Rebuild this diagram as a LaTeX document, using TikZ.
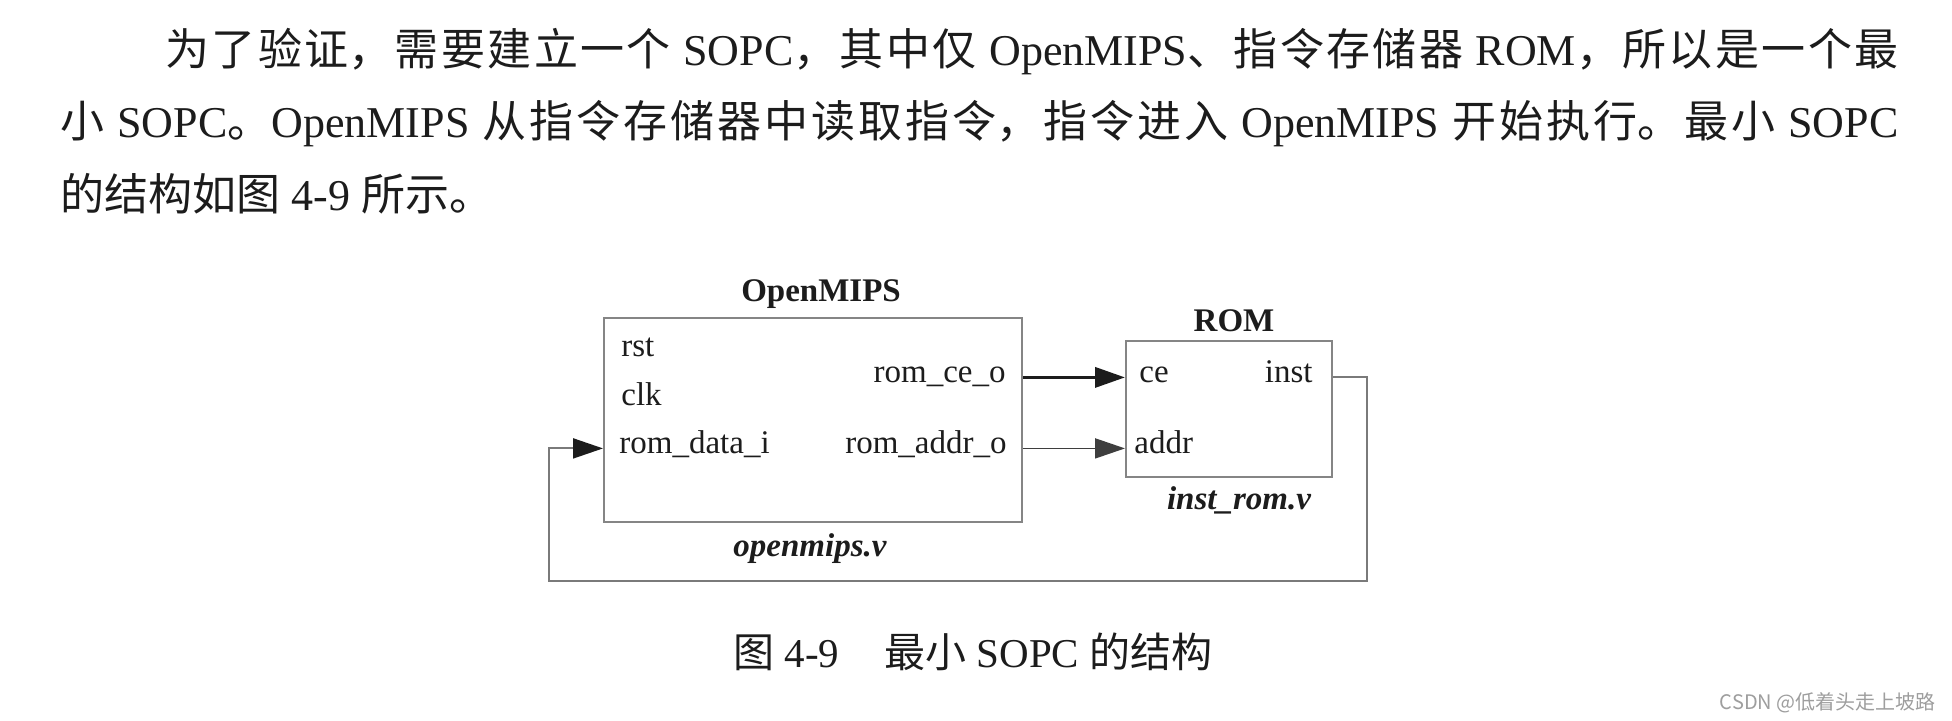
\documentclass[tikz,border=0pt]{standalone}
\usepackage{fontspec}
\setmainfont{Liberation Serif}
\newfontfamily\cjk{Noto Sans CJK SC}
\usetikzlibrary{arrows.meta, positioning}
\XeTeXlinebreaklocale "zh"
\XeTeXlinebreakskip=0pt plus 4pt
\tolerance=9999
\definecolor{ink}  {HTML}{1C1C1C}
\definecolor{frame}{HTML}{858585}
\definecolor{wire} {HTML}{7A7A7A}
\definecolor{mark} {HTML}{9E9E9E}
\newcommand{\fullline}[2]{\parbox[t]{#1}{\parfillskip=0pt #2}}
\tikzset{
  body/.style   = {font=\fontsize{22}{26}\selectfont, text=ink,
                   inner sep=0pt, anchor=base west},
  module/.style = {draw=frame, line width=1pt, inner sep=0pt},
  port/.style   = {font=\fontsize{16.5}{19}\selectfont, text=ink,
                   inner sep=0pt, anchor=base west},
  oport/.style  = {port, anchor=base east},
  title/.style  = {font=\fontsize{16.5}{19}\selectfont\bfseries, text=ink, inner sep=0pt},
  fname/.style  = {font=\fontsize{16.5}{19}\selectfont\bfseries\itshape, text=ink, inner sep=0pt},
  bus/.style    = {-{Triangle[length=15pt, width=10pt]}, line width=1.8pt, ink},
  sig/.style    = {-{Triangle[length=15pt, width=10pt]}, line width=0.9pt, ink!85},
  fb/.style     = {-{Triangle[length=15pt, width=10pt, color=ink]}, line width=1pt, wire},
}

\begin{document}
\begin{tikzpicture}[x=0.5pt, y=-0.5pt]

  \fill[white] (0,0) rectangle (1952,721);
  \useasboundingbox (0,0) rectangle (1952,721);

  % --- paragraph ---
  \node[body] (line1) at (165,66)
    {\fullline{866.5pt}{{\cjk 为了验证，需要建立一个} SOPC{\cjk ，其中仅} OpenMIPS{\cjk 、指令存储器} ROM{\cjk ，所以是一个最}}};
  \node[body] (line2) at (60,138)
    {\fullline{919pt}{{\cjk 小} SOPC{\cjk 。}OpenMIPS {\cjk 从指令存储器中读取指令，指令进入} OpenMIPS {\cjk 开始执行。最小} SOPC}};
  \node[body] (line3) at (60,211) {{\cjk 的结构如图} 4-9 {\cjk 所示。}};

  % --- modules ---
  \node[module, minimum width=209pt, minimum height=102pt] (mips) at (813,420) {};
  \node[module, minimum width=103pt, minimum height=68pt]  (rom)  at (1229,409) {};

  \node[title, above=4pt of mips, xshift=4pt] {OpenMIPS};
  \node[title, above=4pt of rom, xshift=2.5pt] {ROM};
  \node[fname, below=5pt of mips, xshift=-1.5pt] {openmips.v};
  \node[fname, below=4pt of rom, xshift=5pt] {inst\_rom.v};

  % ports of openmips
  \node[port]  (rst)   at (621,357) {rst};
  \node[port]  (clk)   at (621,405) {clk};
  \node[port]  (datai) at (619,453) {rom\_data\_i};
  \node[oport] (ceo)   at (1006,382) {rom\_ce\_o};
  \node[oport] (addro) at (1007,453) {rom\_addr\_o};

  % ports of rom
  \node[port]  (ce)   at (1139,382) {ce};
  \node[port]  (addr) at (1134,453) {addr};
  \node[oport] (inst) at (1313,382) {inst};

  % --- connections ---
  \coordinate (fbr) at (1367,581);
  \coordinate (fbl) at (549,581);
  \draw[bus] (mips.east |- ceo.mid) -- (rom.west |- ceo.mid);
  \draw[sig] (mips.east |- addro.mid) -- (rom.west |- addro.mid);
  \draw[fb] (rom.east |- inst.mid) -| (fbr) -- (fbl) |- (mips.west |- datai.mid);

  % caption and watermark
  \node[body, font=\fontsize{20.5}{24}\selectfont] (cap) at (733,667)
    {{\cjk 图} 4-9\hspace{1.1em}{\cjk 最小} SOPC {\cjk 的结构}};
  \node[inner sep=0pt, anchor=base east, text=mark, font=\cjk\fontsize{10}{12}\selectfont]
    (wm) at (1936,709) {CSDN @低着头走上坡路};

\end{tikzpicture}
\end{document}
